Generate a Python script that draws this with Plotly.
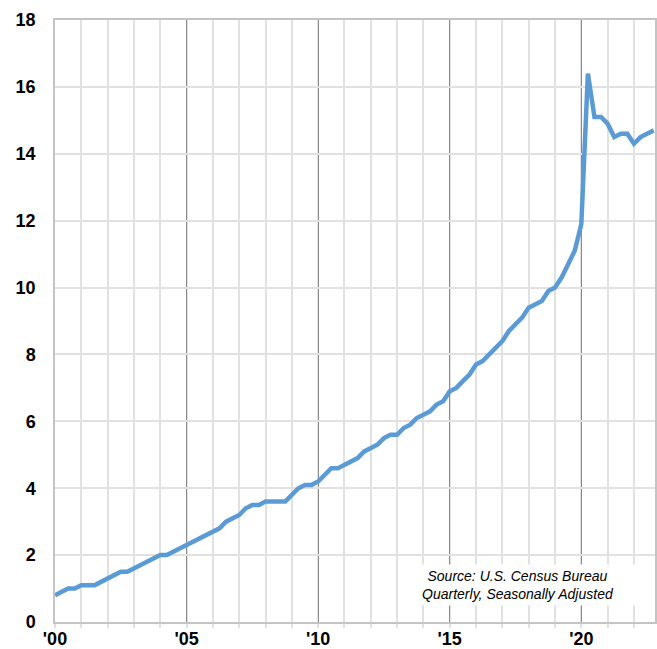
import plotly.graph_objects as go

# U.S. e-commerce share of total retail sales (%), quarterly, 2000 Q1 - 2022 Q4
quarters = [f"{y}Q{q}" for y in range(2000, 2023) for q in range(1, 5)]
ecom_share = [
    0.8, 0.9, 1.0, 1.0,      # 2000
    1.1, 1.1, 1.1, 1.2,      # 2001
    1.3, 1.4, 1.5, 1.5,      # 2002
    1.6, 1.7, 1.8, 1.9,      # 2003
    2.0, 2.0, 2.1, 2.2,      # 2004
    2.3, 2.4, 2.5, 2.6,      # 2005
    2.7, 2.8, 3.0, 3.1,      # 2006
    3.2, 3.4, 3.5, 3.5,      # 2007
    3.6, 3.6, 3.6, 3.6,      # 2008
    3.8, 4.0, 4.1, 4.1,      # 2009
    4.2, 4.4, 4.6, 4.6,      # 2010
    4.7, 4.8, 4.9, 5.1,      # 2011
    5.2, 5.3, 5.5, 5.6,      # 2012
    5.6, 5.8, 5.9, 6.1,      # 2013
    6.2, 6.3, 6.5, 6.6,      # 2014
    6.9, 7.0, 7.2, 7.4,      # 2015
    7.7, 7.8, 8.0, 8.2,      # 2016
    8.4, 8.7, 8.9, 9.1,      # 2017
    9.4, 9.5, 9.6, 9.9,      # 2018
    10.0, 10.3, 10.7, 11.1,  # 2019
    11.9, 16.4, 15.1, 15.1,  # 2020
    14.9, 14.5, 14.6, 14.6,  # 2021
    14.3, 14.5, 14.6, 14.7,  # 2022
]
x_tick_vals = [2000, 2005, 2010, 2015, 2020]
x_tick_text = ["'00", "'05", "'10", "'15", "'20"]
y_tick_vals = [0, 2, 4, 6, 8, 10, 12, 14, 16, 18]
source_text = "Source: U.S. Census Bureau<br>Quarterly, Seasonally Adjusted"

# decimal-year position of each quarter
x_pos = [int(s[:4]) + (int(s[-1]) - 1) / 4 for s in quarters]

LIGHT = "#e1e1e1"
FONT = "Liberation Sans, Arial, Helvetica, sans-serif"

fig = go.Figure()
fig.add_trace(go.Scatter(
    x=x_pos, y=ecom_share, mode="lines",
    line=dict(color="#5b9bd5", width=4.5),
    hoverinfo="x+y", showlegend=False,
))

fig.update_layout(
    width=657, height=649,
    margin=dict(l=55, r=2, t=20, b=27),
    paper_bgcolor="white", plot_bgcolor="white",
    font=dict(family=FONT, color="black"),
    xaxis=dict(
        range=[2000, 2022.8], automargin=False,
        tickvals=x_tick_vals, ticktext=x_tick_text,
        showgrid=True, gridcolor="#8a8a8a", gridwidth=1,
        ticks="", ticklabelstandoff=0,
        minor=dict(dtick=1, tick0=2000, showgrid=True, gridcolor=LIGHT, gridwidth=1.5,
                   ticks="outside", ticklen=4, tickcolor=LIGHT, tickwidth=1.5),
        showline=True, linecolor="#c4c4c4", linewidth=1.5, mirror=True,
        zeroline=False,
        tickfont=dict(family=FONT, size=18, color="black", weight="bold"),
    ),
    yaxis=dict(
        range=[0, 18], automargin=False,
        tickvals=y_tick_vals,
        showgrid=True, gridcolor=LIGHT, gridwidth=1.5,
        ticks="", ticklabelstandoff=14,
        showline=True, linecolor="#c4c4c4", linewidth=1.5, mirror=True,
        zeroline=False,
        tickfont=dict(family=FONT, size=18, color="black", weight="bold"),
    ),
    annotations=[dict(
        x=2017.6, y=1.1, xref="x", yref="y",
        text=source_text, showarrow=False,
        font=dict(family=FONT, size=14, color="black", style="italic"),
        bgcolor="white", width=236, height=38, align="center",
    )],
)

fig.write_html(
    "out.html",
    config={"displayModeBar": False},
    post_script="document.body.style.margin='0';document.body.style.overflow='hidden';",
)
